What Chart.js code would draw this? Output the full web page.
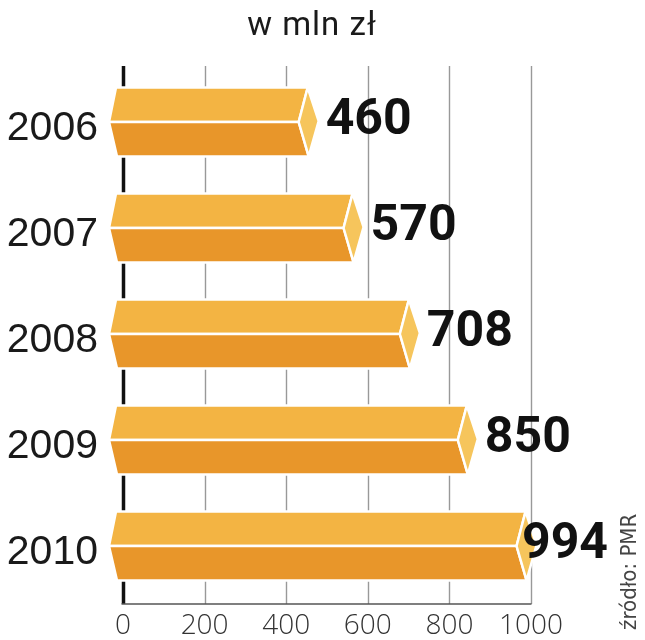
<!DOCTYPE html>
<html>
<head>
<meta charset="utf-8">
<script src="https://cdn.jsdelivr.net/npm/chart.js@4"></script>
<style>
  html, body { margin: 0; padding: 0; background: #fff; }
  #wrap { width: 645px; height: 640px; position: relative; }
</style>
</head>
<body>
<div id="wrap"><canvas id="chart" width="645" height="640"></canvas></div>
<script>
const years = ['2006', '2007', '2008', '2009', '2010'];
const values = [460, 570, 708, 850, 994];
const xTicks = [0, 200, 400, 600, 800, 1000];
const xTickLabels = ['0', '200', '400', '600', '800', '1000'];
const unitLabel = 'w mln zł';
const sourceLabel = 'źródło: PMR';

const TOP_FACE = '#f3b443';
const BOTTOM_FACE = '#e8962a';
const CAP_FACE = '#f6c55c';

// grid, axis line, prism shaped bars and all free text
const prismPlugin = {
  id: 'prism',
  beforeDatasetsDraw(chart) {
    const { ctx, chartArea, scales: { x } } = chart;
    const top = chartArea.top - 3;
    const bottom = chartArea.bottom + 5;
    ctx.save();
    x.ticks.forEach(t => {
      const px = Math.round(x.getPixelForValue(t.value)) + 0.5;
      ctx.beginPath();
      if (t.value === 0) {
        ctx.strokeStyle = '#111';
        ctx.lineWidth = 3.5;
      } else {
        ctx.strokeStyle = '#999';
        ctx.lineWidth = 1.4;
      }
      ctx.moveTo(px, top);
      ctx.lineTo(px, bottom);
      ctx.stroke();
    });
    ctx.beginPath();
    ctx.strokeStyle = '#555';
    ctx.lineWidth = 1.6;
    ctx.moveTo(x.getPixelForValue(0) - 1.5, bottom);
    ctx.lineTo(x.getPixelForValue(1000) + 0.5, bottom);
    ctx.stroke();
    ctx.restore();
  },
  afterDatasetsDraw(chart) {
    const { ctx } = chart;
    const meta = chart.getDatasetMeta(0);
    ctx.save();
    ctx.strokeStyle = '#fff';
    ctx.lineWidth = 2.5;
    ctx.lineJoin = 'round';
    meta.data.forEach((bar, i) => {
      const x0 = bar.base, x1 = bar.x, yc = bar.y;
      const t = yc - bar.height / 2, b = yc + bar.height / 2;
      const poly = (pts, fill) => {
        ctx.beginPath();
        pts.forEach((p, k) => k ? ctx.lineTo(p[0], p[1]) : ctx.moveTo(p[0], p[1]));
        ctx.closePath();
        ctx.fillStyle = fill;
        ctx.fill();
        ctx.stroke();
      };
      poly([[x0 - 14, yc], [x0 - 7, t], [x1 - 3, t], [x1 - 12, yc]], TOP_FACE);
      poly([[x0 - 14, yc], [x0 - 6, b], [x1 - 2, b], [x1 - 12, yc]], BOTTOM_FACE);
      poly([[x1 - 12, yc], [x1 - 3, t], [x1 + 8, yc - 1], [x1 - 2, b]], CAP_FACE);

      // value label
      ctx.font = 'bold 50px Roboto, "Liberation Sans", sans-serif';
      ctx.fillStyle = '#111';
      ctx.textBaseline = 'middle';
      ctx.textAlign = 'left';
      const txt = String(values[i]);
      const w = ctx.measureText(txt).width;
      const lx = Math.min(x1 + 15, 608 - w);
      ctx.fillText(txt, lx, yc - 1);
    });
    ctx.restore();
  },
  afterDraw(chart) {
    const { ctx, scales: { y } } = chart;
    ctx.save();

    // year labels
    ctx.fillStyle = '#1a1a1a';
    ctx.font = '41px "Liberation Sans", Arial, sans-serif';
    ctx.textAlign = 'right';
    ctx.textBaseline = 'alphabetic';
    years.forEach((yr, i) => {
      ctx.fillText(yr, 98, y.getPixelForValue(i) + 18);
    });

    ctx.font = '33px Roboto, "Liberation Sans", sans-serif';
    ctx.textAlign = 'center';
    ctx.letterSpacing = '1px';
    ctx.fillText(unitLabel, 312, 35);
    ctx.letterSpacing = '0px';

    ctx.translate(636, 630);
    ctx.rotate(-Math.PI / 2);
    ctx.fillStyle = '#444';
    ctx.font = '22px "Liberation Sans Narrow", "DejaVu Sans Condensed", sans-serif';
    ctx.textAlign = 'left';
    ctx.fillText(sourceLabel, 0, 0);
    ctx.restore();
  }
};

new Chart(document.getElementById('chart'), {
  type: 'bar',
  data: {
    labels: years,
    datasets: [{
      data: values,
      backgroundColor: 'rgba(0,0,0,0)',
      borderWidth: 0,
      barPercentage: 0.65,
      categoryPercentage: 1
    }]
  },
  options: {
    indexAxis: 'y',
    responsive: false,
    animation: false,
    layout: { padding: { top: 69, right: 114, left: 0, bottom: 0 } },
    plugins: {
      legend: { display: false },
      tooltip: { enabled: false }
    },
    scales: {
      x: {
        min: 0,
        max: 1000,
        afterBuildTicks: s => { s.ticks = xTicks.map(v => ({ value: v })); },
        afterFit: s => { s.height = 41; },
        grid: { display: false, drawTicks: false },
        border: { display: false },
        ticks: {
          padding: 10,
          color: '#333',
          callback: (v, i) => xTickLabels[i],
          font: { family: 'Open Sans', size: 28, weight: 300 }
        }
      },
      y: {
        afterFit: s => { s.width = 123; },
        grid: { display: false, drawTicks: false },
        border: { display: false },
        ticks: { display: false }
      }
    }
  },
  plugins: [prismPlugin]
});
</script>
</body>
</html>
